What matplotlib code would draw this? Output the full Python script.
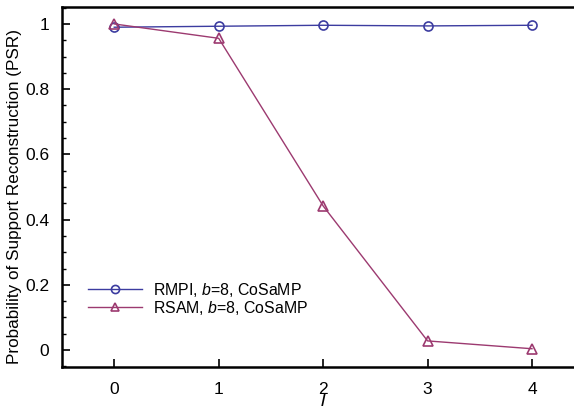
import matplotlib
matplotlib.use("Agg")
import matplotlib.pyplot as plt
from matplotlib.ticker import MultipleLocator

plt.rcParams['font.family'] = ['Liberation Sans', 'DejaVu Sans']
plt.rcParams['mathtext.fontset'] = 'custom'
plt.rcParams['mathtext.it'] = 'Liberation Sans:italic'
plt.rcParams['mathtext.rm'] = 'Liberation Sans'

l_values = [0, 1, 2, 3, 4]
rmpi = [0.99, 0.993, 0.996, 0.994, 0.996]
rsam = [1.0, 0.956, 0.442, 0.028, 0.004]
labels = [r'RMPI, $b$=8, CoSaMP', r'RSAM, $b$=8, CoSaMP']
blue = '#3c3ca0'
purple = '#9c3a70'

fig = plt.figure(figsize=(5.74, 4.11), dpi=100)
ax = fig.add_axes([62/574, 1 - 367/411, (574 - 62)/574 * 1.02, (367 - 7)/411])
ax.plot(l_values, rmpi, color=blue, lw=1, marker='o', ms=6.5, mfc='none', mec=blue, mew=1.2, label=labels[0])
ax.plot(l_values, rsam, color=purple, lw=1, marker='^', ms=6.5, mfc='none', mec=purple, mew=1.2, label=labels[1])

ax.set_xlim(-0.5, 4.5)
ax.set_ylim(-0.052, 1.052)
ax.xaxis.set_major_locator(MultipleLocator(1))
ax.yaxis.set_minor_locator(MultipleLocator(0.05))
ax.set_yticks([0, 0.2, 0.4, 0.6, 0.8, 1.0])
ax.set_yticklabels(['0', '0.2', '0.4', '0.6', '0.8', '1'])
ax.tick_params(axis='both', which='major', direction='in', length=6, width=1.2, labelsize=12.5, colors='black')
ax.tick_params(axis='both', which='minor', direction='in', length=3, width=1)
ax.tick_params(axis='y', pad=9)
ax.tick_params(axis='x', pad=11)
ax.tick_params(top=False, right=False)
for s in ['left', 'bottom', 'top']:
    ax.spines[s].set_linewidth(1.8)
ax.spines['right'].set_visible(False)

ax.set_ylabel('Probability of Support Reconstruction (PSR)', fontsize=12.3)
ax.yaxis.set_label_coords(-0.077, 0.475)
ax.set_xlabel(r'$l$', fontsize=14, labelpad=-3)

leg = ax.legend(loc='upper left', bbox_to_anchor=(0.05, 0.24), frameon=False, fontsize=11.4,
                handlelength=3.4, handletextpad=0.7, labelspacing=0.02,
                borderpad=0, borderaxespad=0, markerscale=0.9)

fig.savefig('out.png', dpi=100)
